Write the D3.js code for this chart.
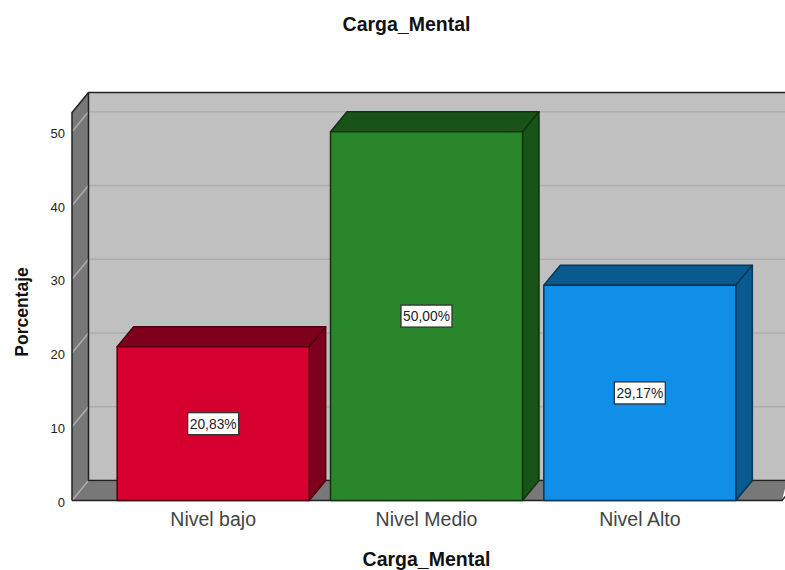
<!DOCTYPE html>
<html>
<head>
<meta charset="utf-8">
<script src="https://cdn.jsdelivr.net/npm/d3@7"></script>
<style>
  html, body { margin:0; padding:0; background:#fff; }
  svg { display:block; }
  text { font-family:"Liberation Sans", Arial, sans-serif; }
</style>
</head>
<body>
<div id="chart"></div>
<script>
/* Carga_Mental: SPSS-style 3D bar chart */
const categories = ["Nivel bajo","Nivel Medio","Nivel Alto"];
const percents   = [20.83, 50.00, 29.17];
const labels     = ["20,83%","50,00%","29,17%"];
const yTicks     = [0,10,20,30,40,50];
const fronts     = ["#d6002f","#2a862a","#118ee8"];
const darks      = ["#7f001c","#1a5318","#085a91"];

const W = 785, H = 570;
const DX = 16.5, DY = -20;      // depth of the 3D box
const yMax = 52.6;

const svg = d3.select("#chart").append("svg").attr("width",W).attr("height",H);

const x = d3.scaleBand().domain(categories).range([106.5,746.5]).paddingInner(0.1).paddingOuter(0.05);
const y = d3.scaleLinear().domain([0,yMax]).range([500.5,112.5]);
const color = d3.scaleOrdinal(categories, fronts);
const dark  = d3.scaleOrdinal(categories, darks);

const x0 = 72, x1 = 782;
const poly = pts => "M" + pts.map(p=>p.join(",")).join("L") + "Z";

/* ---------- box: back wall, side wall, floor ---------- */
svg.append("path")
  .attr("d",poly([[x0+DX,y(yMax)+DY],[W+2,y(yMax)+DY],[W+2,y(0)+DY],[x0+DX,y(0)+DY]]))
  .attr("fill","#c0c0c0");
svg.append("path")
  .attr("d",poly([[x0,y(yMax)],[x0+DX,y(yMax)+DY],[x0+DX,y(0)+DY],[x0,y(0)]]))
  .attr("fill","#787878");
svg.append("path")
  .attr("d",poly([[x0,y(0)],[x0+DX,y(0)+DY],[W+2,y(0)+DY],[x1,y(0)]]))
  .attr("fill","#787878");

/* grid lines */
const grid = svg.append("g").attr("fill","none").attr("stroke","#adadad").attr("stroke-width",1.5);
yTicks.forEach(t=>{
  grid.append("path").attr("d",`M${x0},${y(t)}L${x0+DX},${y(t)+DY}L${W+2},${y(t)+DY}`);
});

/* box outlines */
const edge = svg.append("g").attr("fill","none").attr("stroke","#222").attr("stroke-width",1.5);
edge.append("path").attr("d",`M${x0},${y(0)}L${x0},${y(yMax)}L${x0+DX},${y(yMax)+DY}L${W+2},${y(yMax)+DY}`);
edge.append("path").attr("d",`M${x0+DX},${y(yMax)+DY}L${x0+DX},${y(0)+DY}L${W+2},${y(0)+DY}`);
edge.append("path").attr("d",`M${x0},${y(0)}L${x1},${y(0)}L${x1+DX*0.2},${y(0)+DY*0.2}`);

/* ---------- bars ---------- */
const bars = svg.selectAll("g.bar").data(categories).enter().append("g").attr("class","bar")
  .attr("stroke-linejoin","round");

bars.append("path")   // top face
  .attr("d",(d,i)=>{
    const l=x(d), r=l+x.bandwidth(), t=y(percents[i]);
    return poly([[l,t],[l+DX,t+DY],[r+DX,t+DY],[r,t]]);
  })
  .attr("fill",d=>dark(d)).attr("stroke",d=>d3.color(dark(d)).darker(1.4)).attr("stroke-width",1.5);

bars.append("path")   // side face
  .attr("d",(d,i)=>{
    const r=x(d)+x.bandwidth(), t=y(percents[i]), b=y(0);
    return poly([[r,t],[r+DX,t+DY],[r+DX,b+DY],[r,b]]);
  })
  .attr("fill",d=>dark(d)).attr("stroke",d=>d3.color(dark(d)).darker(1.4)).attr("stroke-width",1.5);

bars.append("rect")   // front face
  .attr("x",d=>x(d)).attr("width",x.bandwidth())
  .attr("y",(d,i)=>y(percents[i])).attr("height",(d,i)=>y(0)-y(percents[i]))
  .attr("fill",d=>color(d)).attr("stroke",d=>d3.color(dark(d)).darker(1.4)).attr("stroke-width",1.5);

/* value labels */
const tag = svg.selectAll("g.tag").data(categories).enter().append("g").attr("class","tag")
  .attr("transform",(d,i)=>`translate(${x(d)+x.bandwidth()/2},${y(percents[i]/2)})`);
tag.append("rect").attr("x",-25.5).attr("y",-11).attr("width",51).attr("height",22)
  .attr("fill","#fff").attr("stroke","#333").attr("stroke-width",1.3);
tag.append("text").attr("text-anchor","middle").attr("dy","0.36em")
  .attr("font-size",13.8).attr("fill","#222").text((d,i)=>labels[i]);

/* ---------- axes ---------- */
const yAxis = svg.append("g").attr("transform",`translate(${x0},1.5)`)
  .call(d3.axisLeft(y).tickValues(yTicks).tickSize(0).tickPadding(7));
yAxis.select(".domain").remove();
yAxis.selectAll("text").attr("font-size",13).attr("fill","#222")
  .style("font-family",'"Liberation Sans", Arial, sans-serif');

const xAxis = svg.append("g").attr("transform",`translate(0,${y(0)})`)
  .call(d3.axisBottom(x).tickSize(0).tickPadding(12));
xAxis.select(".domain").remove();
xAxis.selectAll("text").attr("font-size",19.5).attr("fill","#444")
  .style("font-family",'"Liberation Sans", Arial, sans-serif');

/* ---------- titles ---------- */
svg.append("text").attr("x",406.5).attr("y",30.5).attr("text-anchor","middle")
  .attr("font-size",19.5).attr("font-weight","bold").attr("fill","#111").text("Carga_Mental");
svg.append("text").attr("x",426.5).attr("y",566).attr("text-anchor","middle")
  .attr("font-size",19.5).attr("font-weight","bold").attr("fill","#111").text("Carga_Mental");
svg.append("text").attr("transform","translate(28,312) rotate(-90)").attr("text-anchor","middle")
  .attr("font-size",17.5).attr("font-weight","bold").attr("fill","#111").text("Porcentaje");
</script>
</body>
</html>
